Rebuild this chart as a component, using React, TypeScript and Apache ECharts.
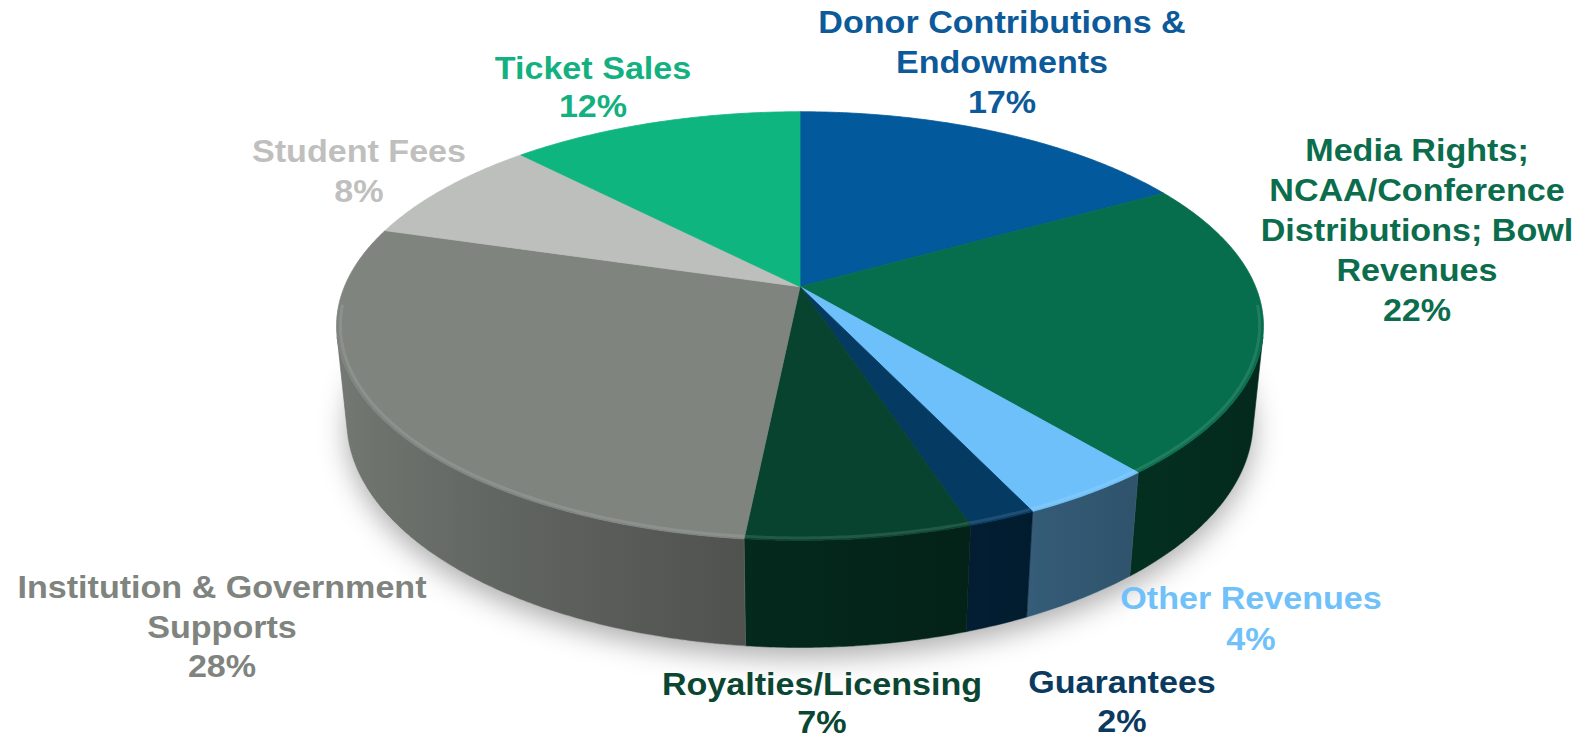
import React, { useEffect, useRef } from "react";
import * as echarts from "echarts";

// ---------- data ----------
const categories = [
  "Donor Contributions & Endowments",
  "Media Rights; NCAA/Conference Distributions; Bowl Revenues",
  "Other Revenues",
  "Guarantees",
  "Royalties/Licensing",
  "Institution & Government Supports",
  "Student Fees",
  "Ticket Sales",
];
const labelLines = [
  ["Donor Contributions &", "Endowments"],
  ["Media Rights;", "NCAA/Conference", "Distributions; Bowl", "Revenues"],
  ["Other Revenues"],
  ["Guarantees"],
  ["Royalties/Licensing"],
  ["Institution & Government", "Supports"],
  ["Student Fees"],
  ["Ticket Sales"],
];
// shares in percent (labels show them rounded)
const shares = [16.8, 22.2, 4.0, 2.0, 6.6, 28.0, 8.2, 12.2];

// ---------- styles ----------
const sliceColors = ["#02599B", "#076E4D", "#6EC0FA", "#053A63", "#07432E", "#7F847F", "#BDBFBC", "#0FB57F"];
const labelColors = ["#0C5A9A", "#0B6D4C", "#70C1F9", "#0B3A60", "#0A4631", "#7F847F", "#BFC0BE", "#12B17F"];

// label layout: center x, first-line baseline y, line gap (page pixels)
const labelLayout = [
  { x: 1002, y: 33, gap: 40 },
  { x: 1417, y: 161.7, gap: 40 },
  { x: 1251, y: 609.5, gap: 40.5 },
  { x: 1122, y: 693.3, gap: 38.5 },
  { x: 822, y: 695, gap: 38 },
  { x: 222, y: 598.3, gap: 39.5 },
  { x: 359, y: 162, gap: 40 },
  { x: 593, y: 79.3, gap: 38 },
];

// ---------- 3D projection geometry ----------
const G = { cx: 800, cy: 286.7, F: 2209, D: 4.849, sa: 0.4546, ca: 0.8907, h: 0.235 };
const RAD = Math.PI / 180;

function proj(theta: number, r: number, z: number): number[] {
  const t = theta * RAD;
  const u = r * Math.sin(t);
  const v = r * Math.cos(t);
  const depth = G.D + v * G.ca - z * G.sa;
  return [G.cx + (G.F * u) / depth, G.cy - (G.F * (v * G.sa + z * G.ca)) / depth];
}

const VIS_A = Math.acos(-1 / (G.D * G.ca)) / RAD; // start of front-facing wall
const VIS_B = 360 - VIS_A;

const total = shares.reduce((a, b) => a + b, 0);
const startAngles: number[] = [];
{
  let acc = 0;
  for (const s of shares) {
    startAngles.push((acc / total) * 360);
    acc += s;
  }
}

function hexToRgb(hex: string): number[] {
  const h = hex.replace("#", "");
  return [parseInt(h.slice(0, 2), 16), parseInt(h.slice(2, 4), 16), parseInt(h.slice(4, 6), 16)];
}
function rgbStr(c: number[]): string {
  return `rgb(${c.map((x) => Math.max(0, Math.min(255, Math.round(x)))).join(",")})`;
}
function scaleColor(hex: string, f: number): string {
  return rgbStr(hexToRgb(hex).map((x) => x * f));
}
function lighten(hex: string, f: number): string {
  return rgbStr(hexToRgb(hex).map((x) => x + (255 - x) * f));
}
function shadeAt(theta: number): number {
  const t = (1 - Math.sin(theta * RAD)) / 2;
  return 0.37 + 0.55 * Math.pow(t, 1.3);
}

function arcPoints(a: number, b: number, r: number, z: number, step = 0.5): number[][] {
  const pts: number[][] = [];
  const n = Math.max(2, Math.ceil((b - a) / step));
  for (let k = 0; k <= n; k++) pts.push(proj(a + ((b - a) * k) / n, r, z));
  return pts;
}

const seriesData = shares.map((v, i) => ({ name: categories[i], value: [i, v] }));

function sliceRange(i: number, api: any): number[] {
  const a0 = startAngles[i];
  const a1 = a0 + (360 * api.value(1)) / total;
  return [a0, a1];
}

const textEls: any[] = [];
labelLayout.forEach((l, i) => {
  const lines = labelLines[i].concat([`${Math.round(shares[i])}%`]);
  lines.forEach((line, k) => {
    textEls.push({
      type: "text",
      x: l.x,
      y: l.y + k * l.gap - 10.7,
      scaleX: 1.1,
      z: 10,
      silent: true,
      style: {
        text: line,
        fill: labelColors[i],
        fontSize: 31,
        fontWeight: "bold",
        fontFamily: "'Liberation Sans', Arial, sans-serif",
        lineHeight: 31,
        align: "center",
        verticalAlign: "middle",
        textAlign: "center",
        textVerticalAlign: "middle",
      },
    });
  });
});

const option: any = {
  animation: false,
  backgroundColor: "#ffffff",
  series: [
    {
      type: "custom",
      coordinateSystem: "none",
      silent: true,
      z: 1,
      data: [{ value: [0, 1] }],
      renderItem: () => {
        const pts = arcPoints(0, 360, 1, -G.h, 1);
        return {
          type: "polygon",
          shape: { points: pts },
          style: {
            fill: "#ffffff",
            shadowBlur: 28,
            shadowOffsetY: 10,
            shadowColor: "rgba(0,0,0,0.32)",
          },
        };
      },
    },
    {
      type: "custom",
      coordinateSystem: "none",
      silent: true,
      z: 2,
      data: seriesData,
      renderItem: (params: any, api: any) => {
        const i = params.dataIndex;
        const [a0, a1] = sliceRange(i, api);
        const lo = Math.max(a0, VIS_A);
        const hi = Math.min(a1, VIS_B);
        if (hi <= lo) return { type: "group", children: [] };
        const top = arcPoints(lo, hi, 1, 0);
        const bot = arcPoints(lo, hi, 1, -G.h).reverse();
        const pts = top.concat(bot);
        const xs = pts.map((p) => p[0]);
        const minX = Math.min(...xs);
        const maxX = Math.max(...xs);
        const stops: any[] = [];
        const n = 8;
        for (let k = 0; k <= n; k++) {
          const th = lo + ((hi - lo) * k) / n;
          const x = proj(th, 1, -G.h / 2)[0];
          const off = maxX > minX ? Math.max(0, Math.min(1, (x - minX) / (maxX - minX))) : 0;
          stops.push({ offset: off, color: scaleColor(sliceColors[i], shadeAt(th)) });
        }
        stops.sort((p, q) => p.offset - q.offset);
        const mid = scaleColor(sliceColors[i], shadeAt((lo + hi) / 2));
        return {
          type: "polygon",
          shape: { points: pts },
          style: {
            fill: { type: "linear", x: 0, y: 0, x2: 1, y2: 0, colorStops: stops },
            stroke: mid,
            lineWidth: 0.6,
          },
        };
      },
    },
    {
      type: "custom",
      coordinateSystem: "none",
      silent: true,
      z: 3,
      data: seriesData,
      renderItem: (params: any, api: any) => {
        const i = params.dataIndex;
        const [a0, a1] = sliceRange(i, api);
        const center = proj(0, 0, 0);
        const pts = [center].concat(arcPoints(a0, a1, 1, 0));
        const children: any[] = [
          {
            type: "polygon",
            shape: { points: pts },
            style: { fill: sliceColors[i], stroke: sliceColors[i], lineWidth: 0.8 },
          },
        ];
        const lo = Math.max(a0, 95);
        const hi = Math.min(a1, 265);
        if (hi > lo) {
          children.push({
            type: "polyline",
            shape: { points: arcPoints(lo, hi, 0.992, 0) },
            style: { fill: null, stroke: lighten(sliceColors[i], 0.2), lineWidth: 3, opacity: 0.55 },
          });
        }
        return { type: "group", children };
      },
    },
  ],
  graphic: { elements: textEls },
};

export default function App() {
  const ref = useRef<HTMLDivElement>(null);
  useEffect(() => {
    document.body.style.margin = "0";
    const chart = echarts.init(ref.current as HTMLDivElement, null, { renderer: "svg" });
    chart.setOption(option);
    return () => chart.dispose();
  }, []);
  return <div ref={ref} style={{ width: 1590, height: 739 }} />;
}
